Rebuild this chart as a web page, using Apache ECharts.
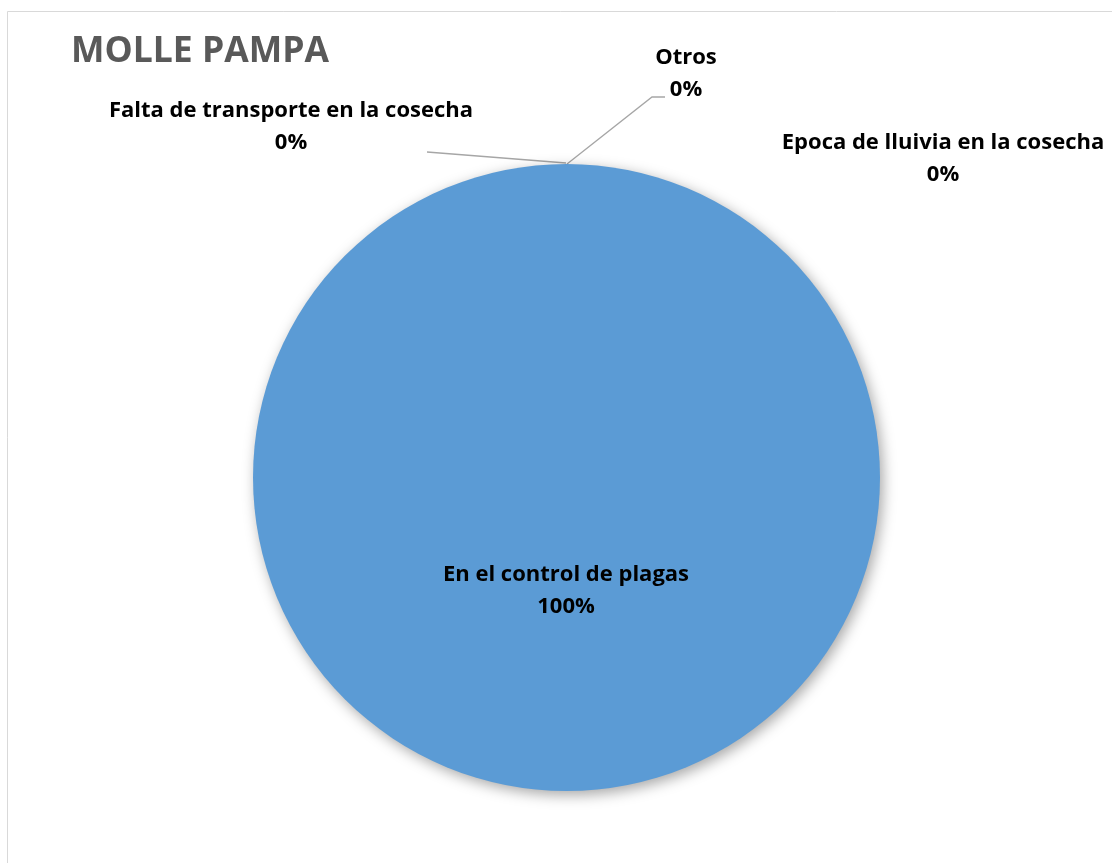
<!DOCTYPE html>
<html>
<head>
<meta charset="utf-8">
<script src="https://cdn.jsdelivr.net/npm/echarts@6/dist/echarts.min.js"></script>
<style>
html,body{margin:0;padding:0;background:#fff;}
#c{width:1112px;height:863px;}
</style>
</head>
<body>
<div id="c"></div>
<script>
const titleText = 'MOLLE PAMPA';
const categories = ['En el control de plagas', 'Epoca de lluivia en la cosecha', 'Falta de transporte en la cosecha', 'Otros'];
const values = [100, 0, 0, 0];

// label anchor positions (centre of each label block)
const labelPos = {
  'En el control de plagas': [566, 591],
  'Epoca de lluivia en la cosecha': [943, 159],
  'Falta de transporte en la cosecha': [291, 127],
  'Otros': [686, 74]
};
const leaderLines = {
  'Otros': [[567, 164], [652, 97], [665, 97]],
  'Falta de transporte en la cosecha': [[566, 163], [427, 152]]
};

const FONT = '"Open Sans", Lato, sans-serif';
const chart = echarts.init(document.getElementById('c'), null, {renderer: 'canvas'});
chart.setOption({
  backgroundColor: '#ffffff',
  animation: false,
  title: {
    text: titleText,
    left: 66,
    top: 29,
    textStyle: {fontFamily: FONT, fontWeight: 'bold', fontSize: 35.5, color: '#595959'}
  },
  graphic: [{
    type: 'rect',
    shape: {x: 7.5, y: 11.5, width: 1300, height: 1000},
    style: {fill: 'none', stroke: '#d9d9d9', lineWidth: 1},
    silent: true, z: -1
  }],
  series: [{
    type: 'pie',
    center: [566.5, 477.5],
    radius: 313.5,
    startAngle: 90,
    clockwise: true,
    avoidLabelOverlap: false,
    percentPrecision: 0,
    itemStyle: {
      color: '#5B9BD5',
      borderWidth: 0,
      shadowBlur: 14,
      shadowOffsetX: 3,
      shadowOffsetY: 4,
      shadowColor: 'rgba(0,0,0,0.35)'
    },
    label: {
      show: true,
      formatter: '{b}\n{d}%',
      fontFamily: FONT,
      fontWeight: 'bold',
      fontSize: 22,
      lineHeight: 32,
      color: '#000000',
      align: 'center'
    },
    labelLine: {
      show: true,
      length: 10,
      length2: 10,
      lineStyle: {color: '#a6a6a6', width: 1.3}
    },
    labelLayout: function (p) {
      const name = categories[p.dataIndex];
      const pos = labelPos[name];
      const out = {x: pos[0], y: pos[1], align: 'center', verticalAlign: 'middle'};
      if (leaderLines[name]) out.labelLinePoints = leaderLines[name];
      return out;
    },
    data: categories.map(function (c, i) {
      const d = {name: c, value: values[i]};
      if (!leaderLines[c]) d.labelLine = {show: false};
      return d;
    })
  }]
});
</script>
</body>
</html>
